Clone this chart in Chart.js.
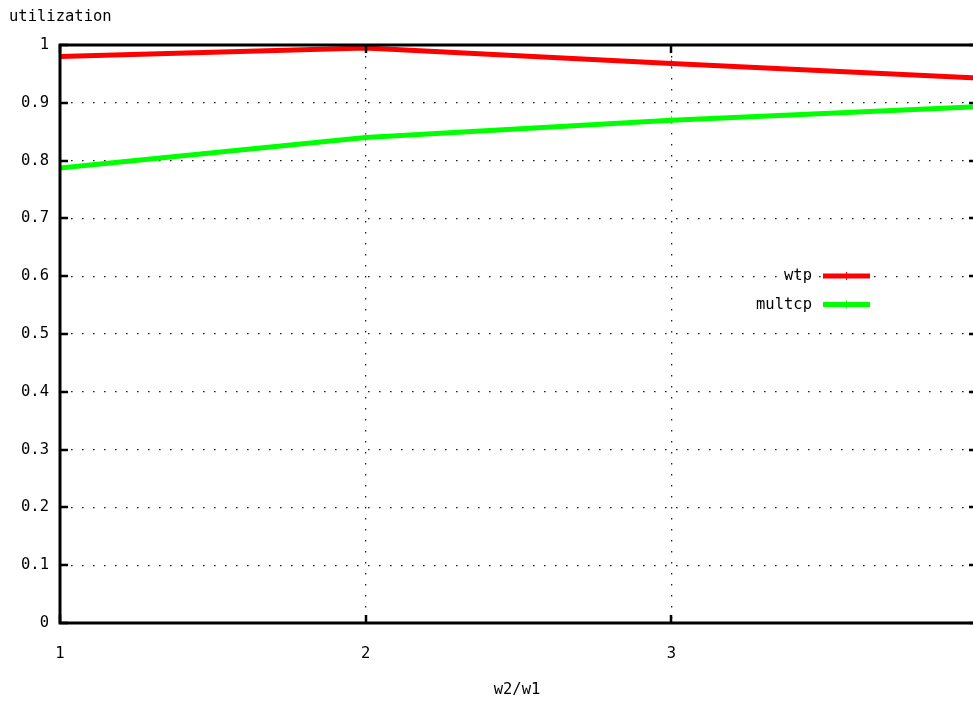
<!DOCTYPE html>
<html>
<head>
<meta charset="utf-8">
<script src="https://cdn.jsdelivr.net/npm/chart.js@4/dist/chart.umd.min.js"></script>
<style>
  html, body { margin: 0; padding: 0; background: #fff; overflow: hidden; }
  #wrap { position: absolute; left: 0; top: 0; width: 1000px; height: 704px; }
</style>
</head>
<body>
<div id="wrap"><canvas id="c" width="1000" height="704"></canvas></div>
<script>
// Window ratio w2/w1 and link utilization for each protocol
const ratios = [1, 2, 3, 4];
const wtp = [0.980, 0.995, 0.968, 0.943];
const multcp = [0.787, 0.840, 0.870, 0.893];
const yTicks = [0, 0.1, 0.2, 0.3, 0.4, 0.5, 0.6, 0.7, 0.8, 0.9, 1];
const xTitle = 'w2/w1';
const yTitle = 'utilization';

const FONT = '"DejaVu Sans Mono", monospace';
const FSIZE = 15.5;

// Frame, inward tick marks, axis titles and key in the style of a classic plot
const framePlugin = {
  id: 'frame',
  afterDatasetsDraw(chart) {
    const { ctx, chartArea: a, scales } = chart;
    const xs = scales.x, ys = scales.y;
    ctx.save();
    ctx.strokeStyle = '#000';
    ctx.lineWidth = 2.5;
    ctx.beginPath();
    yTicks.forEach(v => {
      const py = Math.round(ys.getPixelForValue(v));
      ctx.moveTo(a.left, py); ctx.lineTo(a.left + 8, py);
      ctx.moveTo(a.right, py); ctx.lineTo(a.right - 8, py);
    });
    ratios.forEach(v => {
      const px = Math.round(xs.getPixelForValue(v));
      ctx.moveTo(px, a.bottom); ctx.lineTo(px, a.bottom - 8);
      ctx.moveTo(px, a.top); ctx.lineTo(px, a.top + 8);
    });
    ctx.stroke();
    ctx.lineWidth = 3;
    ctx.strokeRect(a.left, a.top, a.right - a.left, a.bottom - a.top);

    ctx.fillStyle = '#000';
    ctx.font = FSIZE + 'px ' + FONT;
    ctx.textBaseline = 'middle';
    ctx.textAlign = 'left';
    ctx.fillText(yTitle, 9, 17);
    ctx.textAlign = 'center';
    ctx.fillText(xTitle, 517, 690);

    // key
    const keyTextRight = 812, keyX0 = 823, keyX1 = 870;
    chart.data.datasets.forEach((ds, i) => {
      const y = 276 + i * 28.5;
      ctx.textAlign = 'right';
      ctx.fillStyle = '#000';
      ctx.fillText(ds.label, keyTextRight, y);
      ctx.strokeStyle = ds.borderColor;
      ctx.lineWidth = 5;
      ctx.beginPath(); ctx.moveTo(keyX0, y); ctx.lineTo(keyX1, y); ctx.stroke();
      ctx.lineWidth = 1;
      ctx.beginPath();
      ctx.moveTo((keyX0 + keyX1) / 2, y - 4); ctx.lineTo((keyX0 + keyX1) / 2, y + 4);
      ctx.stroke();
    });
    ctx.restore();
  }
};

new Chart(document.getElementById('c'), {
  type: 'line',
  data: {
    datasets: [
      {
        label: 'wtp',
        data: ratios.map((x, i) => ({ x, y: wtp[i] })),
        borderColor: '#ff0000',
        backgroundColor: '#ff0000',
        borderWidth: 5,
        pointStyle: 'cross',
        pointRadius: 4,
        pointBorderWidth: 1,
        tension: 0
      },
      {
        label: 'multcp',
        data: ratios.map((x, i) => ({ x, y: multcp[i] })),
        borderColor: '#00ff00',
        backgroundColor: '#00ff00',
        borderWidth: 5,
        pointStyle: 'cross',
        pointRadius: 4,
        pointBorderWidth: 1,
        tension: 0
      }
    ]
  },
  options: {
    responsive: false,
    animation: false,
    layout: { padding: { left: 0, top: 45, right: 23, bottom: 0 } },
    plugins: { legend: { display: false }, tooltip: { enabled: false } },
    scales: {
      x: {
        type: 'linear',
        min: 1, max: 4,
        afterFit(s) { s.height = 81; },
        afterBuildTicks(s) { s.ticks = ratios.map(v => ({ value: v })); },
        // invisible tick marks only push the labels below the frame
        grid: { color: '#222', lineWidth: 1.3, drawTicks: true, tickLength: 22, tickColor: 'rgba(0,0,0,0)' },
        border: { display: false, dash: [1.6, 9.4] },
        ticks: { padding: 0, color: '#000', font: { family: FONT, size: FSIZE }, callback: v => String(v) }
      },
      y: {
        min: 0, max: 1,
        afterFit(s) { s.width = 60; },
        afterBuildTicks(s) { s.ticks = yTicks.map(v => ({ value: v })); },
        grid: { color: '#222', lineWidth: 1.3, drawTicks: false },
        border: { display: false, dash: [1.6, 9.4] },
        ticks: { padding: 11, color: '#000', font: { family: FONT, size: FSIZE },
          callback: v => (v === 0 || v === 1) ? String(v) : v.toFixed(1) }
      }
    }
  },
  plugins: [framePlugin]
});
</script>
</body>
</html>
